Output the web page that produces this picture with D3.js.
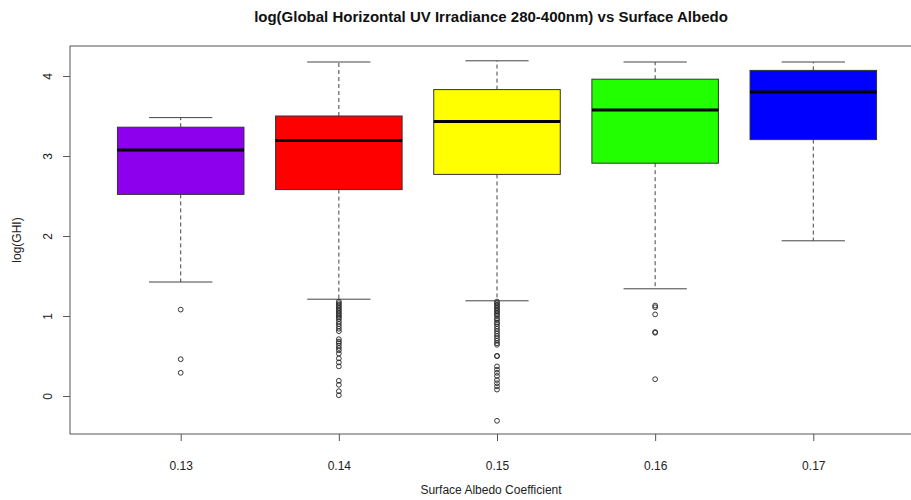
<!DOCTYPE html>
<html>
<head>
<meta charset="utf-8">
<script src="https://cdn.jsdelivr.net/npm/d3@7"></script>
<style>
  html, body { margin: 0; padding: 0; background: #fff; overflow: hidden; }
  svg { display: block; font-family: "Liberation Sans", Arial, Helvetica, sans-serif; }
</style>
</head>
<body>
<svg id="chart" width="911" height="500"></svg>
<script>
// Surface albedo groups
const categories = ["0.13", "0.14", "0.15", "0.16", "0.17"];
const boxColors = ["#8c00ee", "#ff0000", "#ffff00", "#22ff00", "#0000ff"];

// Five-number summaries of log(GHI) per group
const lowerWhisker = [1.425, 1.21, 1.19, 1.34, 1.94];
const q1 = [2.52, 2.58, 2.77, 2.91, 3.205];
const medians = [3.075, 3.195, 3.43, 3.575, 3.80];
const q3 = [3.36, 3.50, 3.83, 3.96, 4.07];
const upperWhisker = [3.48, 4.175, 4.19, 4.175, 4.175];

// Points beyond the whiskers
const outliers013 = [1.08, 0.46, 0.29];
const outliers014 = [1.18, 1.16, 1.14, 1.12, 1.10, 1.08, 1.06, 1.04, 1.02, 1.00, 0.98, 0.96, 0.93, 0.90,
  0.87, 0.84, 0.81, 0.71, 0.68, 0.66, 0.63, 0.60, 0.57, 0.53, 0.47, 0.42, 0.37, 0.19, 0.14, 0.06, 0.01];
const outliers015 = [1.18, 1.16, 1.14, 1.12, 1.10, 1.08, 1.06, 1.04, 1.02, 1.00, 0.97, 0.95, 0.92, 0.90,
  0.87, 0.84, 0.81, 0.78, 0.75, 0.72, 0.69, 0.66, 0.64, 0.50, 0.50, 0.37, 0.33, 0.29, 0.25, 0.20, 0.16,
  0.12, 0.08, -0.31];
const outliers016 = [1.13, 1.11, 1.02, 0.80, 0.79, 0.21];
const outliers017 = [];
const outlierSets = [outliers013, outliers014, outliers015, outliers016, outliers017];

const yTicks = [0, 1, 2, 3, 4];

const svg = d3.select("#chart");
const plot = { left: 70, right: 924, top: 46, bottom: 434 };

const x = d3.scaleLinear().domain([0.3, categories.length + 0.7]).range([plot.left, plot.right]);
const y = d3.scaleLinear().domain([-0.475, 4.375]).range([plot.bottom, plot.top]);

const unit = x(2) - x(1);
const boxW = unit * 0.8;
const capW = boxW * 0.5;

const groups = categories.map((c, i) => ({
  cat: c, pos: i + 1, color: boxColors[i],
  lo: lowerWhisker[i], q1: q1[i], med: medians[i], q3: q3[i], hi: upperWhisker[i],
  out: outlierSets[i]
}));

// Title
svg.append("text")
  .attr("x", (plot.left + plot.right) / 2 - 6)
  .attr("y", 22)
  .attr("text-anchor", "middle")
  .attr("font-size", 15)
  .attr("font-weight", "bold")
  .attr("fill", "#111")
  .text("log(Global Horizontal UV Irradiance 280-400nm) vs Surface Albedo");

const g = svg.append("g");

// Whiskers (dashed) and caps
groups.forEach(d => {
  const cx = x(d.pos);
  g.append("line").attr("x1", cx).attr("x2", cx).attr("y1", y(d.q3)).attr("y2", y(d.hi))
    .attr("stroke", "#444").attr("stroke-dasharray", "4,3");
  g.append("line").attr("x1", cx).attr("x2", cx).attr("y1", y(d.q1)).attr("y2", y(d.lo))
    .attr("stroke", "#444").attr("stroke-dasharray", "4,3");
  [d.hi, d.lo].forEach(v => {
    g.append("line").attr("x1", cx - capW / 2).attr("x2", cx + capW / 2)
      .attr("y1", y(v)).attr("y2", y(v)).attr("stroke", "#444");
  });
});

// Boxes
g.selectAll("rect.box").data(groups).join("rect")
  .attr("class", "box")
  .attr("x", d => x(d.pos) - boxW / 2)
  .attr("width", boxW)
  .attr("y", d => y(d.q3))
  .attr("height", d => y(d.q1) - y(d.q3))
  .attr("fill", d => d.color)
  .attr("stroke", "#333")
  .attr("stroke-width", 1);

// Medians
g.selectAll("line.median").data(groups).join("line")
  .attr("class", "median")
  .attr("x1", d => x(d.pos) - boxW / 2)
  .attr("x2", d => x(d.pos) + boxW / 2)
  .attr("y1", d => y(d.med)).attr("y2", d => y(d.med))
  .attr("stroke", "#000").attr("stroke-width", 3);

// Outliers
groups.forEach(d => {
  g.selectAll(null).data(d.out).join("circle")
    .attr("cx", x(d.pos))
    .attr("cy", v => y(v))
    .attr("r", 2.4)
    .attr("fill", "none")
    .attr("stroke", "#222")
    .attr("stroke-width", 0.9);
});

// Plot frame
svg.append("rect")
  .attr("x", plot.left).attr("y", plot.top)
  .attr("width", plot.right - plot.left).attr("height", plot.bottom - plot.top)
  .attr("fill", "none").attr("stroke", "#555").attr("stroke-width", 1);

// Y axis
const yAxis = svg.append("g")
  .attr("transform", `translate(${plot.left},0)`)
  .call(d3.axisLeft(y).tickValues(yTicks).tickSize(7).tickPadding(0).tickFormat(d3.format("d")));
yAxis.select(".domain").remove();
yAxis.selectAll(".tick line").attr("stroke", "#555");
yAxis.selectAll(".tick text")
  .attr("transform", "rotate(-90)")
  .attr("x", 0).attr("y", -22)
  .attr("dy", "0.35em")
  .attr("text-anchor", "middle")
  .attr("font-size", 12)
  .attr("fill", "#222")
  .attr("font-family", "Liberation Sans, Arial, sans-serif");

// X axis
const xAxis = svg.append("g")
  .attr("transform", `translate(0,${plot.bottom})`)
  .call(d3.axisBottom(x).tickValues(groups.map(d => d.pos)).tickSize(7).tickPadding(0)
    .tickFormat((v, i) => categories[i]));
xAxis.select(".domain").remove();
xAxis.selectAll(".tick line").attr("stroke", "#555");
xAxis.selectAll(".tick text")
  .attr("y", 36)
  .attr("dy", 0)
  .attr("font-size", 12)
  .attr("fill", "#222")
  .attr("font-family", "Liberation Sans, Arial, sans-serif");

// Axis titles
svg.append("text")
  .attr("x", (plot.left + plot.right) / 2 - 6)
  .attr("y", 494)
  .attr("text-anchor", "middle")
  .attr("font-size", 12)
  .attr("fill", "#222")
  .text("Surface Albedo Coefficient");

svg.append("text")
  .attr("transform", `translate(21,${(plot.top + plot.bottom) / 2}) rotate(-90)`)
  .attr("text-anchor", "middle")
  .attr("font-size", 12)
  .attr("fill", "#222")
  .text("log(GHI)");
</script>
</body>
</html>
